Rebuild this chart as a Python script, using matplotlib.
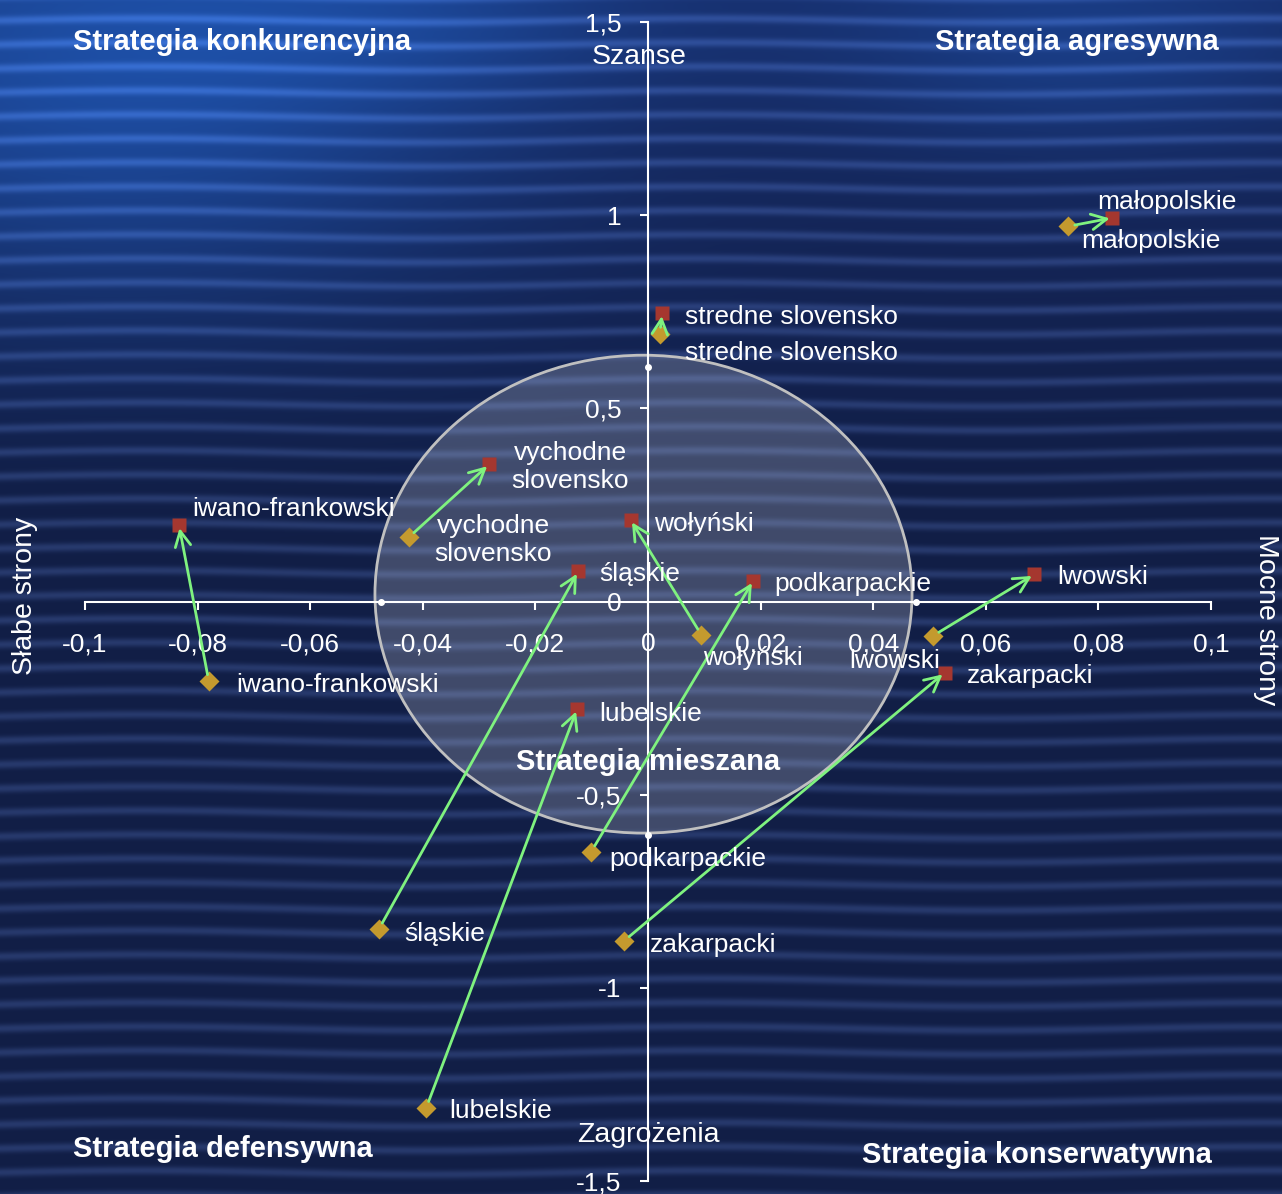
import numpy as np
import matplotlib
matplotlib.use('Agg')
import matplotlib.pyplot as plt
from matplotlib.patches import Ellipse
from matplotlib.ticker import FuncFormatter

plt.rcParams['font.family'] = ['Liberation Sans', 'DejaVu Sans']

# ---------------- data ----------------
regions = ['małopolskie', 'stredne slovensko', 'vychodne\nslovensko', 'iwano-frankowski',
           'wołyński', 'śląskie', 'podkarpackie', 'lwowski', 'zakarpacki', 'lubelskie']
x_start = [0.0746, 0.0021, -0.0425, -0.0780, 0.0095, -0.0478, -0.0101, 0.0506, -0.0043, -0.0394]
y_start = [0.971, 0.692, 0.166, -0.207, -0.087, -0.848, -0.648, -0.089, -0.879, -1.311]
x_end = [0.0825, 0.0025, -0.0282, -0.0833, -0.0031, -0.0124, 0.0187, 0.0686, 0.0527, -0.0126]
y_end = [0.993, 0.746, 0.355, 0.197, 0.211, 0.078, 0.054, 0.070, -0.184, -0.278]

# mixed-strategy zone (ellipse) and its axis points
zone_center = (-0.0008, 0.019)
zone_width = 0.0954
zone_height = 1.237
zone_pts_x = [0.0, 0.0, -0.0474, 0.0476]
zone_pts_y = [0.607, -0.604, 0.0, 0.0]

x_ticks = [-0.1, -0.08, -0.06, -0.04, -0.02, 0.0, 0.02, 0.04, 0.06, 0.08, 0.1]
y_ticks = [-1.5, -1.0, -0.5, 0.0, 0.5, 1.0, 1.5]

# label offsets in pixels (styling)
start_off = [(13, -15), (25, -19), (26, -3), (27, -4), (2, -23), (25, -5), (18, -7), (-84, -25), (26, -4), (23, -3)]
end_off = [(-15, 16), (23, -4), (22, -3), (13, 16), (23, -4), (21, -3), (21, -3), (23, -3), (22, -3), (22, -5)]

W, H = 1282, 1194
fig = plt.figure(figsize=(W / 100, H / 100), dpi=100)

# ---------------- background ----------------
bg = fig.add_axes([0, 0, 1, 1])
yy = np.arange(H)[:, None].astype(float)
xx = np.arange(W)[None, :].astype(float)
dark_top = np.array([22, 42, 100.0])
dark_bot = np.array([17, 30, 70.0])
t = np.clip(yy / 500.0, 0, 1)[..., None]
base = dark_top * (1 - t) + dark_bot * t
bright = np.array([30, 80, 168.0])
glow = (0.9 * np.exp(-(((xx - 120) / 380) ** 2 + ((yy - 60) / 230) ** 2))
        + 0.5 * np.exp(-(((xx - 1080) / 260) ** 2 + ((yy - 40) / 110) ** 2))
        + 0.3 * np.exp(-(((xx - 420) / 260) ** 2 + ((yy - 20) / 80) ** 2)))
glow = np.clip(glow, 0, 1)[..., None]
img = base * (1 - glow) + bright * glow
phase = 2 * np.pi * (yy - 20 + 2.0 * np.sin(xx / 90.0)) / 24.0
s = ((0.5 + 0.5 * np.cos(phase)) ** 3)[..., None]
img = img + s * np.array([22, 27, 38.0]) * (1 + 0.15 * glow)
img = np.clip(img, 0, 255).astype(np.uint8)
bg.imshow(img, extent=[0, 1, 0, 1], aspect='auto', interpolation='bilinear')
bg.set_axis_off()

# ---------------- main axes ----------------
ax = fig.add_axes([85 / W, 1 - 1181 / H, (1211 - 85) / W, (1181 - 22) / H])
ax.set_facecolor('none')
ax.set_xlim(-0.1, 0.1)
ax.set_ylim(-1.5, 1.5)

for side in ['top', 'right']:
    ax.spines[side].set_visible(False)
for side in ['left', 'bottom']:
    ax.spines[side].set_position(('data', 0))
    ax.spines[side].set_color('white')
    ax.spines[side].set_linewidth(1.5)


def fmt(v, pos=None):
    s = f"{v:.2f}".rstrip('0').rstrip('.')
    if s in ('-0', '-0.'):
        s = '0'
    return s.replace('.', ',')


ax.set_xticks(x_ticks)
ax.set_yticks(y_ticks)
ax.xaxis.set_major_formatter(FuncFormatter(fmt))
ax.yaxis.set_major_formatter(FuncFormatter(fmt))
ax.tick_params(axis='x', direction='out', length=6, width=1.5, color='white',
               labelcolor='white', labelsize=19, pad=16)
ax.tick_params(axis='y', direction='out', length=6, width=1.5, color='white',
               labelcolor='white', labelsize=19, pad=13)

# zone ellipse
ell = Ellipse(zone_center, zone_width, zone_height, facecolor=(1, 1, 1, 0.2),
              edgecolor='#c0c0c0', linewidth=2, zorder=1)
ax.add_patch(ell)
ax.plot(zone_pts_x, zone_pts_y, 'o', color='white', ms=4, zorder=3, clip_on=False)

# arrows
for xs, ys, xe, ye in zip(x_start, y_start, x_end, y_end):
    ax.annotate('', xy=(xe, ye), xytext=(xs, ys),
                arrowprops=dict(arrowstyle='->,head_length=0.55,head_width=0.28',
                                color='#7ff27f', lw=2.0, shrinkA=5, shrinkB=2,
                                mutation_scale=20), zorder=5)

ax.plot(x_start, y_start, 'D', color='#c49a2e', ms=10.5, mec='none', zorder=4, clip_on=False)
ax.plot(x_end, y_end, 's', color='#a5372f', ms=10.5, mec='none', zorder=4, clip_on=False)

for name, xs, ys, off in zip(regions, x_start, y_start, start_off):
    ax.annotate(name, (xs, ys), xytext=off, textcoords='offset pixels', ha='left',
                va='center', multialignment='center', color='white', fontsize=19, zorder=6)
for name, xe, ye, off in zip(regions, x_end, y_end, end_off):
    ax.annotate(name, (xe, ye), xytext=off, textcoords='offset pixels', ha='left',
                va='center', multialignment='center', color='white', fontsize=19, zorder=6)


def ftxt(px, py, s, **kw):
    fig.text(px / W, 1 - py / H, s, color='white', **kw)


ftxt(639, 57, 'Szanse', ha='center', va='center', fontsize=20.5)
ftxt(648, 1135, 'Zagrożenia', ha='center', va='center', fontsize=20.5)
ftxt(25, 596, 'Słabe strony', ha='center', va='center', rotation=90, fontsize=20.5)
ftxt(1266, 620, 'Mocne strony', ha='center', va='center', rotation=270, fontsize=20.5)

ftxt(73, 42, 'Strategia konkurencyjna', ha='left', va='center', fontsize=21, fontweight='bold')
ftxt(1219, 42, 'Strategia agresywna', ha='right', va='center', fontsize=21, fontweight='bold')
ftxt(73, 1149, 'Strategia defensywna', ha='left', va='center', fontsize=21, fontweight='bold')
ftxt(1212, 1155, 'Strategia konserwatywna', ha='right', va='center', fontsize=21, fontweight='bold')
ftxt(648, 762, 'Strategia mieszana', ha='center', va='center', fontsize=21, fontweight='bold')

fig.savefig('out.png', dpi=100)
